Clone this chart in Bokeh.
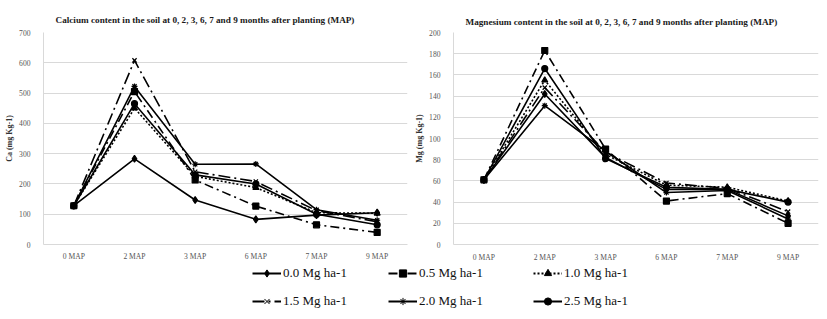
from bokeh.plotting import figure
from bokeh.models import ColumnDataSource, FixedTicker, Legend, LegendItem, Range1d
from bokeh.layouts import column, row
from bokeh.embed import file_html
from bokeh.resources import INLINE

months = ["0 MAP", "2 MAP", "3 MAP", "6 MAP", "7 MAP", "9 MAP"]
doses = ["0.0 Mg ha-1", "0.5 Mg ha-1", "1.0 Mg ha-1",
         "1.5 Mg ha-1", "2.0 Mg ha-1", "2.5 Mg ha-1"]

# Calcium (mg Kg-1)
ca_00 = [128, 283, 147, 83, 97, 105]
ca_05 = [128, 505, 213, 127, 65, 40]
ca_10 = [128, 450, 225, 188, 105, 103]
ca_15 = [128, 608, 240, 208, 112, 75]
ca_20 = [128, 522, 265, 266, 115, 80]
ca_25 = [128, 465, 230, 200, 100, 65]

# Magnesium (mg Kg-1)
mg_00 = [61, 142, 82, 52, 52, 27]
mg_05 = [61, 183, 90, 41, 48, 20]
mg_10 = [61, 155, 85, 56, 54, 41]
mg_15 = [61, 148, 87, 58, 53, 31]
mg_20 = [61, 131, 88, 49, 51, 24]
mg_25 = [61, 166, 81, 54, 52, 40]

ca_ticks = [0, 100, 200, 300, 400, 500, 600, 700]
mg_ticks = [0, 20, 40, 60, 80, 100, 120, 140, 160, 180, 200]

styles = [
    dict(marker="diamond", dash="solid", size=7),
    dict(marker="square", dash="9 4 2 4", size=6),
    dict(marker="triangle", dash="2 2", size=6),
    dict(marker="x", dash="12 4 2 4", size=6),
    dict(marker="asterisk", dash="solid", size=6),
    dict(marker="circle", dash="solid", size=6),
]

SERIF = "Liberation Serif"
GRID = "#d9d9d9"


def make_chart(title, ylabel, ymax, ticks, series, width, left, right, top, bottom,
               title_standoff, x_standoff):
    p = figure(x_range=months, y_range=Range1d(0, ymax), width=width, height=264,
               output_backend="svg", toolbar_location=None,
               min_border_left=left, min_border_right=right,
               min_border_top=top, min_border_bottom=bottom,
               title=title)
    p.title.text_font = SERIF
    p.title.text_font_size = "9.2px"
    p.title.text_font_style = "bold"
    p.title.text_color = "#1a1a1a"
    p.title.align = "left"
    p.title.offset = 12
    p.title.standoff = title_standoff
    p.outline_line_color = None
    p.xgrid.grid_line_color = None
    p.ygrid.grid_line_color = GRID
    p.yaxis.ticker = FixedTicker(ticks=ticks)
    p.yaxis.axis_label = ylabel
    p.yaxis.axis_label_text_font = SERIF
    p.yaxis.axis_label_text_font_size = "8px"
    p.yaxis.axis_label_text_font_style = "bold"
    p.yaxis.axis_label_text_color = "#333333"
    p.yaxis.axis_label_standoff = 2
    for ax in (p.xaxis, p.yaxis):
        ax.major_label_text_font = SERIF
        ax.major_label_text_font_size = "7.6px"
        ax.major_label_text_color = "#555555"
        ax.axis_line_color = GRID
        ax.major_tick_line_color = None
        ax.minor_tick_line_color = None
    p.yaxis.major_label_standoff = 7
    p.xaxis.major_label_standoff = x_standoff
    for vals, st in zip(series, styles):
        src = ColumnDataSource(dict(x=months, y=vals))
        p.line("x", "y", source=src, line_color="black", line_width=1.6,
               line_dash=st["dash"])
        p.scatter("x", "y", source=src, marker=st["marker"], size=st["size"],
                  line_color="black", fill_color="black", line_width=1.2)
    return p


p1 = make_chart("Calcium content in the soil at 0, 2, 3, 6, 7 and 9 months after planting (MAP)",
                "Ca (mg Kg-1)", 700, ca_ticks,
                [ca_00, ca_05, ca_10, ca_15, ca_20, ca_25], 412, 43, 5, 32, 19, 16, 1)
p2 = make_chart("Magnesium content in the soil at 0, 2, 3, 6, 7 and 9 months after planting (MAP)",
                "Mg (mg Kg-1)", 200, mg_ticks,
                [mg_00, mg_05, mg_10, mg_15, mg_20, mg_25], 415, 36, 9, 30, 16, 12, 2)

# Legend panel
pl = figure(width=827, height=55, x_range=Range1d(0, 1), y_range=Range1d(0, 1),
            output_backend="svg", toolbar_location=None,
            min_border_left=0, min_border_right=0, min_border_top=0, min_border_bottom=0)
pl.axis.visible = False
pl.grid.grid_line_color = None
pl.outline_line_color = None

items = []
for name, st in zip(doses, styles):
    src = ColumnDataSource(dict(x=[-5.0, -4.0], y=[-5.0, -5.0]))
    r1 = pl.line("x", "y", source=src, line_color="black", line_width=2,
                 line_dash=st["dash"])
    r2 = pl.scatter("x", "y", source=src, marker=st["marker"], size=st["size"],
                    line_color="black", fill_color="black")
    items.append(LegendItem(label=name, renderers=[r1, r2]))

col_x = [252, 388, 533]
for c in range(3):
    leg = Legend(items=[items[c], items[c + 3]], location=(col_x[c], 9),
                 orientation="vertical", glyph_width=29, glyph_height=18,
                 label_height=18, spacing=10, padding=0, margin=0,
                 label_standoff=2, label_text_font=SERIF,
                 label_text_font_size="13px", label_text_color="#111111",
                 background_fill_alpha=0, border_line_color=None)
    pl.add_layout(leg, "center")

layout = column(row(p1, p2), pl)

open("out.html", "w").write(file_html(layout, INLINE))
